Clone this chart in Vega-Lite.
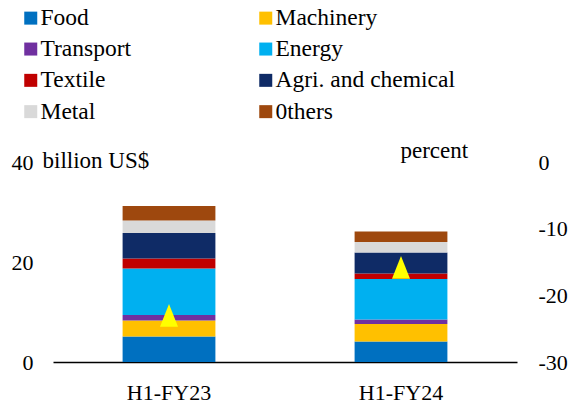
{
  "$schema": "https://vega.github.io/schema/vega-lite/v6.json",
  "width": 464,
  "height": 200,
  "autosize": {"type": "none"},
  "padding": {"left": 53, "top": 162, "right": 51, "bottom": 49},
  "config": {
    "font": "Liberation Serif",
    "view": {"stroke": null},
    "axis": {
      "labelFont": "Liberation Serif",
      "titleFont": "Liberation Serif",
      "labelFontSize": 22,
      "titleFontSize": 23,
      "labelColor": "#000000",
      "titleColor": "#000000",
      "titleFontWeight": "normal",
      "grid": false,
      "ticks": false
    },
    "legend": {
      "labelFont": "Liberation Serif",
      "labelFontSize": 23.5,
      "labelColor": "#000000"
    }
  },
  "datasets": {
    "exports": [
      {"half": "H1-FY23", "sector": "Food", "rank": 1, "value": 5.1},
      {"half": "H1-FY23", "sector": "Machinery", "rank": 2, "value": 3.2},
      {"half": "H1-FY23", "sector": "Transport", "rank": 3, "value": 1.1},
      {"half": "H1-FY23", "sector": "Energy", "rank": 4, "value": 9.3},
      {"half": "H1-FY23", "sector": "Textile", "rank": 5, "value": 2.0},
      {"half": "H1-FY23", "sector": "Agri. and chemical", "rank": 6, "value": 5.1},
      {"half": "H1-FY23", "sector": "Metal", "rank": 7, "value": 2.5},
      {"half": "H1-FY23", "sector": "0thers", "rank": 8, "value": 2.9},
      {"half": "H1-FY24", "sector": "Food", "rank": 1, "value": 4.1},
      {"half": "H1-FY24", "sector": "Machinery", "rank": 2, "value": 3.5},
      {"half": "H1-FY24", "sector": "Transport", "rank": 3, "value": 0.9},
      {"half": "H1-FY24", "sector": "Energy", "rank": 4, "value": 8.1},
      {"half": "H1-FY24", "sector": "Textile", "rank": 5, "value": 1.1},
      {"half": "H1-FY24", "sector": "Agri. and chemical", "rank": 6, "value": 4.2},
      {"half": "H1-FY24", "sector": "Metal", "rank": 7, "value": 2.1},
      {"half": "H1-FY24", "sector": "0thers", "rank": 8, "value": 2.1}
    ],
    "growth": [
      {"half": "H1-FY23", "pct": -23.0},
      {"half": "H1-FY24", "pct": -15.8}
    ]
  },
  "layer": [
    {
      "data": {"name": "exports"},
      "mark": {"type": "bar", "width": {"band": 0.4}},
      "encoding": {
        "x": {
          "field": "half",
          "type": "nominal",
          "scale": {"paddingInner": 0, "paddingOuter": 0},
          "axis": {
            "title": null,
            "labelAngle": 0,
            "labelPadding": 20,
            "domainColor": "#000000",
            "domainWidth": 1.5
          }
        },
        "y": {
          "field": "value",
          "type": "quantitative",
          "stack": "zero",
          "scale": {"domain": [0, 40]},
          "axis": {
            "values": [0, 20, 40],
            "domain": false,
            "labelPadding": 20,
            "title": "billion US$",
            "titleAngle": 0,
            "titleAlign": "left",
            "titleBaseline": "alphabetic",
            "titleX": -11,
            "titleY": 5
          }
        },
        "order": {"field": "rank", "type": "quantitative", "sort": "ascending"},
        "color": {
          "field": "sector",
          "type": "nominal",
          "sort": ["Food", "Machinery", "Transport", "Energy", "Textile", "Agri. and chemical", "Metal", "0thers"],
          "scale": {
            "domain": ["Food", "Machinery", "Transport", "Energy", "Textile", "Agri. and chemical", "Metal", "0thers"],
            "range": ["#0070C0", "#FFC000", "#7030A0", "#00B0F0", "#C00000", "#0F2B66", "#D9D9D9", "#9E480E"]
          },
          "legend": {
            "orient": "none",
            "legendX": -34,
            "legendY": -156,
            "columns": 2,
            "direction": "horizontal",
            "title": null,
            "symbolType": "square",
            "symbolSize": 169,
            "symbolStrokeWidth": 0,
            "labelFont": "Liberation Serif",
            "labelFontSize": 23.5,
            "labelColor": "#000000",
            "labelOffset": -2,
            "labelLimit": 300,
            "rowPadding": 6.3,
            "columnPadding": 122,
            "padding": 0
          }
        }
      }
    },
    {
      "data": {"name": "growth"},
      "mark": {
        "type": "point",
        "shape": "M0,-1.26L1,1.26L-1,1.26Z",
        "filled": true,
        "size": 324,
        "color": "#FFFF00",
        "opacity": 1
      },
      "encoding": {
        "x": {"field": "half", "type": "nominal"},
        "y": {
          "field": "pct",
          "type": "quantitative",
          "scale": {"domain": [-30, 0]},
          "axis": {
            "orient": "right",
            "values": [-30, -20, -10, 0],
            "labelExpr": "datum.value == 0 ? '0' : '-' + abs(datum.value)",
            "domain": false,
            "labelPadding": 21,
            "labelAlign": "left",
            "title": "percent",
            "titleAngle": 0,
            "titleAlign": "left",
            "titleBaseline": "alphabetic",
            "titleX": -117,
            "titleY": -5
          }
        }
      }
    }
  ],
  "resolve": {"scale": {"y": "independent"}}
}
